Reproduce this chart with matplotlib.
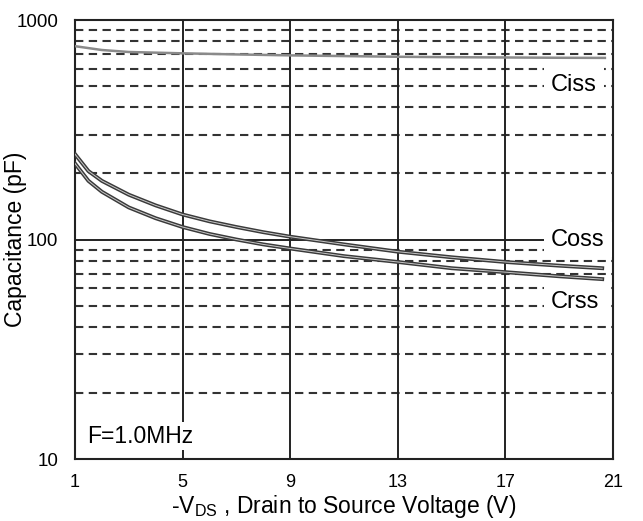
import numpy as np
import matplotlib.pyplot as plt
import matplotlib.patheffects as pe

plt.rcParams['font.family'] = ['Liberation Sans', 'DejaVu Sans']
plt.rcParams['mathtext.fontset'] = 'custom'
plt.rcParams['mathtext.rm'] = 'Liberation Sans'

# curve data
v_ciss = [1, 2, 3, 5, 7, 9, 11, 13, 15, 17, 19, 20.7]
ciss = [760, 730, 715, 705, 697, 690, 685, 680, 677, 675, 673, 672]

v_oss = [1, 1.5, 2, 3, 4, 5, 6, 7, 8, 9, 11, 13, 15, 17, 19, 20.6]
coss = [245, 205, 185, 160, 143, 130, 121, 114, 108, 103, 95, 88, 83, 79, 76, 74]
crss = [222, 185, 165, 140, 125, 114, 106, 100, 95, 91, 84, 79, 74, 71, 68, 66]

xticks = [1, 5, 9, 13, 17, 21]
yticks = [10, 100, 1000]
dashed_levels = [20, 30, 40, 50, 60, 70, 80, 90, 200, 300, 400, 500, 600, 700, 800, 900]

fig = plt.figure(figsize=(6.43, 5.21), dpi=100)
ax = fig.add_axes([0.1166, 0.119, 0.8367, 0.8426])
ax.set_yscale('log')
ax.set_xlim(1, 21)
ax.set_ylim(10, 1000)

# grid: dashed minor levels, solid at 100 and at the inner x ticks
for y in dashed_levels:
    ax.axhline(y, color='#333333', lw=1.5, ls=(0, (4, 2.6)), zorder=1)
ax.axhline(100, color='#222222', lw=1.4, zorder=1)
for x in xticks[1:-1]:
    ax.axvline(x, color='#222222', lw=1.4, zorder=1)

# curves drawn as a thin double stroke like the scanned sheet
dbl = [pe.Stroke(linewidth=2.8, foreground='#3a3a3a'), pe.Normal()]
ax.plot(v_ciss, ciss, color='#8a8a8a', lw=1.8, zorder=3)
ax.plot(v_oss, coss, color='#c8c8c8', lw=0.7, zorder=3, path_effects=dbl)
ax.plot(v_oss, crss, color='#c8c8c8', lw=0.7, zorder=3, path_effects=dbl)

box = dict(facecolor='white', edgecolor='none', pad=5)
ax.text(19.55, 505, 'Ciss', fontsize=17, ha='center', va='center', bbox=box, zorder=4)
ax.text(19.7, 100, 'Coss', fontsize=17, ha='center', va='center', bbox=box, zorder=4)
ax.text(19.6, 52, 'Crss', fontsize=17, ha='center', va='center', bbox=box, zorder=4)
ax.text(1.45, 12.7, 'F=1.0MHz', fontsize=16.5, ha='left', va='center',
        bbox=dict(facecolor='white', edgecolor='none', pad=2), zorder=4)

ax.set_xticks(xticks)
ax.set_xticklabels([str(t) for t in xticks], fontsize=13)
ax.set_yticks(yticks)
ax.set_yticklabels([str(t) for t in yticks], fontsize=13.5)
ax.yaxis.set_minor_locator(plt.NullLocator())
ax.tick_params(length=0, pad=11, axis='x')
ax.tick_params(length=0, pad=12, axis='y')

for s in ax.spines.values():
    s.set_linewidth(1.5)
    s.set_color('#222222')

ax.set_xlabel('-V$_{\\mathregular{DS}}$ , Drain to Source Voltage (V)', fontsize=16.5)
ax.xaxis.set_label_coords(0.5, -0.078)
ax.set_ylabel('Capacitance (pF)', fontsize=16.5)
ax.yaxis.set_label_coords(-0.09, 0.5)

fig.savefig('out.png', dpi=100)
